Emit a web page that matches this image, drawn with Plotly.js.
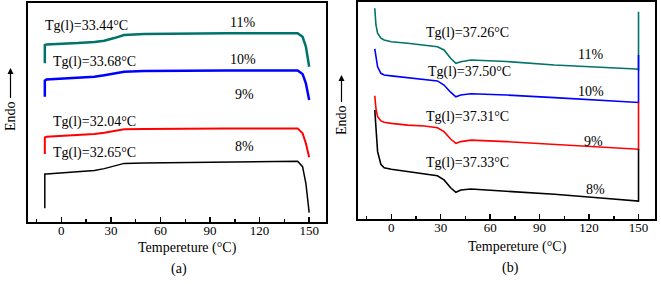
<!DOCTYPE html>
<html><head><meta charset="utf-8">
<script src="https://cdn.plot.ly/plotly-3.0.1.min.js"></script>
<style>html,body{margin:0;padding:0;background:#fff}</style>
</head><body><div id="chart" style="width:661px;height:284px"></div>
<script>
// ---------- DATA (panel a) ----------
const tempA = [-10, -10, -9, 0, 10, 20, 26, 32, 38, 50, 70, 100, 143, 146, 148, 150];
const a8  = [6.3, 21.9, 21.9, 22.3, 22.9, 23.5, 24.4, 25.6, 26.8, 27.0, 27.1, 27.4, 27.8, 25.3, 17.7, 4.3];
const a9  = [31.1, 38.7, 39.0, 39.3, 39.8, 40.2, 40.8, 41.7, 42.4, 42.5, 42.7, 42.8, 42.8, 40.6, 36.0, 29.6];
const a10 = [57.3, 64.6, 65.2, 65.5, 66.0, 66.4, 67.1, 68.0, 68.7, 69.0, 69.2, 69.3, 69.3, 67.7, 63.4, 55.8];
const a11 = [72.6, 80.9, 81.2, 81.4, 81.8, 82.3, 82.9, 84.1, 85.5, 86.0, 86.2, 86.3, 86.3, 84.7, 80.2, 71.0];
const tgA = ['Tg(l)=32.65°C', 'Tg(l)=32.04°C', 'Tg(l)=33.68°C', 'Tg(l)=33.44°C'];

// ---------- DATA (panel b) ----------
const tempB = [-10, -9.3, -8.3, -6.3, -4.3, 0, 10, 20, 28, 32, 36, 39.2, 42.2, 48.3, 70, 99, 129, 148.5, 150, 150];
const b8  = [50.2, 40.3, 31.1, 25.3, 23.7, 23.0, 21.9, 21.1, 20.0, 18.1, 14.5, 12.4, 13.5, 13.9, 13.0, 11.5, 9.7, 8.5, 8.4, 32.3];
const b9  = [56.8, 51.0, 47.2, 45.2, 44.6, 44.1, 43.3, 42.9, 42.1, 40.3, 36.9, 34.9, 35.7, 36.4, 35.7, 34.5, 33.2, 32.3, 32.2, 53.8];
const b10 = [78.3, 74.0, 70.1, 67.1, 66.3, 65.9, 65.1, 64.5, 63.6, 61.7, 58.4, 56.3, 57.1, 57.7, 57.1, 55.9, 54.5, 53.8, 53.7, 75.5];
const b11 = [97.0, 89.3, 85.5, 83.2, 82.4, 81.6, 80.9, 80.1, 79.3, 77.8, 74.0, 71.7, 72.4, 73.2, 72.5, 70.9, 69.9, 69.1, 68.8, 95.4];
const tgB = ['Tg(l)=37.33°C', 'Tg(l)=37.31°C', 'Tg(l)=37.50°C', 'Tg(l)=37.26°C'];

const pctLabels = ['8%', '9%', '10%', '11%'];
const tickVals = [0, 30, 60, 90, 120, 150];
const tickText = ['0', '30', '60', '90', '120', '150'];

// ---------- STYLE ----------
const W = 661, H = 284;
const FONT = 'Liberation Serif, Times New Roman, serif';
const colors = ['#000000', '#ff0000', '#0000ff', '#00736a'];
const px = x => x / W, py = y => 1 - y / H;

const seriesA = [a8, a9, a10, a11];
const seriesB = [b8, b9, b10, b11];
const widthsA = [1.5, 2, 2.5, 2.5];

const traces = [];
seriesA.forEach((s, i) => traces.push({
  x: tempA, y: s, type: 'scatter', mode: 'lines', xaxis: 'x', yaxis: 'y',
  line: {color: colors[i], width: widthsA[i]}, name: pctLabels[i], showlegend: false
}));
[3, 2, 1, 0].forEach(i => traces.push({
  x: tempB, y: seriesB[i], type: 'scatter', mode: 'lines', xaxis: 'x2', yaxis: 'y2',
  line: {color: colors[i], width: 1.6}, name: pctLabels[i], showlegend: false
}));

function xax(domain) {
  return {
    domain: domain, range: [-20, 160], showgrid: false, zeroline: false,
    showline: true, mirror: true, linecolor: '#000', linewidth: 2,
    ticks: 'inside', ticklen: 5, tickwidth: 1.5, tickcolor: '#000',
    tickvals: tickVals, ticktext: tickText, ticklabelstandoff: -5,
    minor: {tickvals: [-15, 15, 45, 75, 105, 135], ticks: 'inside', ticklen: 3, tickwidth: 1.5, tickcolor: '#000'},
    tickfont: {family: FONT, size: 13, color: '#000'}, fixedrange: true
  };
}
function yax(domain, anchor) {
  return {
    domain: domain, range: [0, 100], showgrid: false, zeroline: false,
    showline: true, mirror: true, linecolor: '#000', linewidth: 2,
    ticks: '', showticklabels: false, anchor: anchor, fixedrange: true
  };
}

const ann = [];
function txt(text, x, y, size, extra) {
  ann.push(Object.assign({text: text, x: px(x), y: py(y), xref: 'paper', yref: 'paper',
    showarrow: false, xanchor: 'center', yanchor: 'middle',
    font: {family: FONT, size: size || 14, color: '#000'}}, extra || {}));
}
// panel a labels
const tgPosA = [[95, 152.7], [94, 122.3], [94, 61.7], [86, 25.7]];
const pctPosA = [[244, 146.7], [244, 94.3], [243, 59.3], [242.5, 22.7]];
tgA.forEach((t, i) => txt(t, tgPosA[i][0], tgPosA[i][1]));
pctLabels.forEach((t, i) => txt(t, pctPosA[i][0], pctPosA[i][1]));
// panel b labels
const tgPosB = [[467, 163.3], [467, 116.7], [469, 71.7], [467, 32.7]];
const pctPosB = [[595, 189], [593, 141], [591, 91], [590.5, 54.5]];
tgB.forEach((t, i) => txt(t, tgPosB[i][0], tgPosB[i][1]));
pctLabels.forEach((t, i) => txt(t, pctPosB[i][0], pctPosB[i][1]));
// axis titles
txt('Tempereture (°C)', 187, 248, 14);
txt('Tempereture (°C)', 517, 247, 14);
txt('(a)', 179, 269, 14);
txt('(b)', 510, 268, 14);
txt('Endo', 10, 116, 14, {textangle: -90});
txt('Endo', 341, 120, 14, {textangle: -90});
// arrows
function arrow(x, yHead, yTail) {
  ann.push({text: ' ', x: px(x), y: py(yHead), xref: 'paper', yref: 'paper',
    font: {size: 1}, showarrow: true, ax: 0, ay: yTail - yHead, arrowhead: 2, arrowsize: 1,
    arrowwidth: 1.2, arrowcolor: '#000', standoff: 0, startstandoff: 0});
}
arrow(10.5, 68, 100);
arrow(341.5, 75, 104);

const layout = {
  width: W, height: H, margin: {l: 0, r: 0, t: 0, b: 0},
  paper_bgcolor: '#fff', plot_bgcolor: '#fff', showlegend: false,
  xaxis: Object.assign(xax([28.3 / W, 325.7 / W]), {anchor: 'y'}),
  yaxis: yax([py(222), py(3.3)], 'x'),
  xaxis2: Object.assign(xax([358.3 / W, 655 / W]), {anchor: 'y2'}),
  yaxis2: yax([py(219.3), py(1.7)], 'x2'),
  annotations: ann
};
Plotly.newPlot('chart', traces, layout, {displayModeBar: false, staticPlot: true});
</script></body></html>
